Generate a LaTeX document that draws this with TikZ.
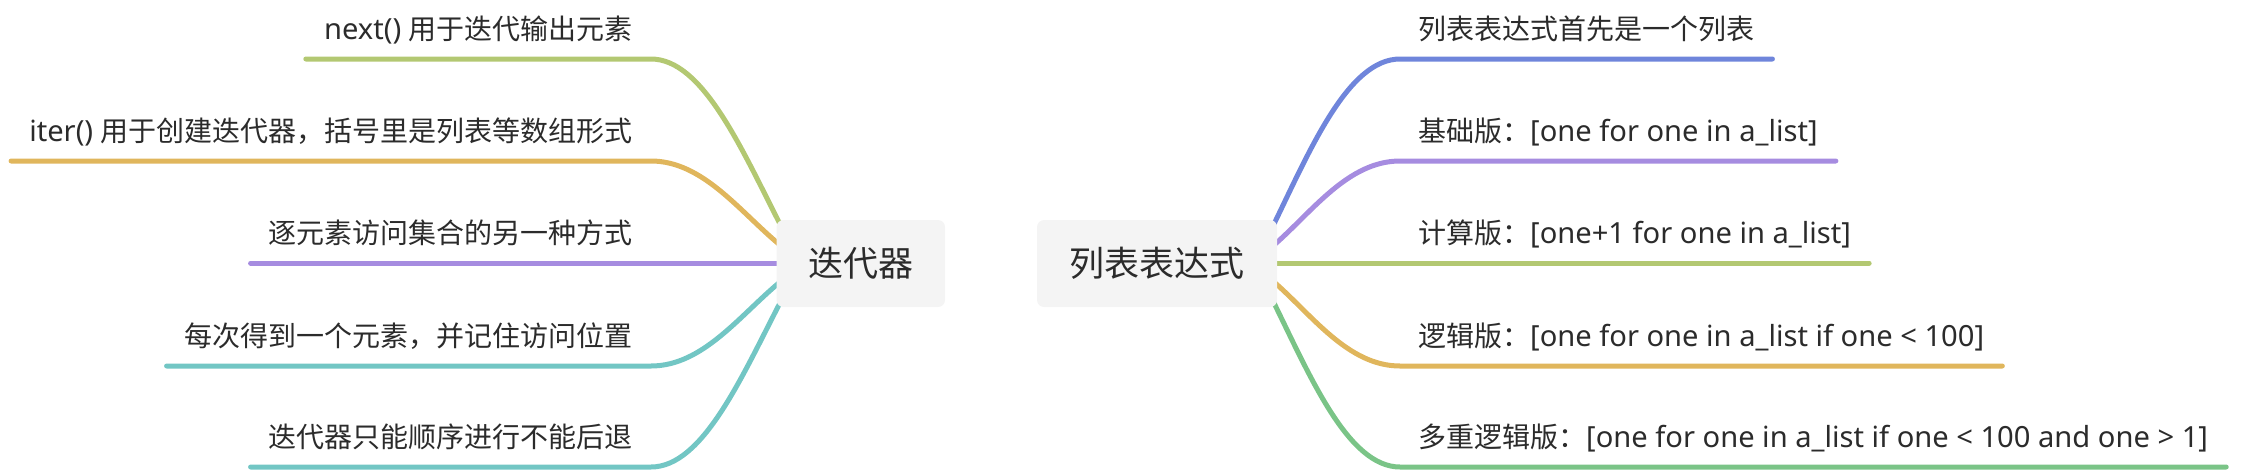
\documentclass[tikz,border=0pt]{standalone}
\usepackage{fontspec}
\setmainfont{Noto Sans CJK SC}
\newfontfamily\lat{Noto Sans}[Scale=1.04]
\usetikzlibrary{backgrounds}
\definecolor{txt}{HTML}{2B2B2B}
\definecolor{hubfill}{HTML}{F4F4F4}
\definecolor{cOlive}{HTML}{B3C872}
\definecolor{cOrange}{HTML}{E0B65C}
\definecolor{cPurple}{HTML}{A68CE0}
\definecolor{cTeal}{HTML}{72C6C4}
\definecolor{cBlue}{HTML}{6F85DB}
\definecolor{cGreen}{HTML}{7AC487}
\begin{document}
\begin{tikzpicture}[x=1pt,y=-1pt,
  hub/.style={fill=hubfill, rounded corners=7pt, minimum height=87pt, inner sep=0pt,
    text=txt, font=\fontsize{35}{40}\selectfont},
  leaf/.style={text=txt, font=\fontsize{28}{32}\selectfont, inner xsep=18pt, inner ysep=0pt,
    text height=22pt, text depth=19pt},
  br/.style={line width=5pt, line cap=round}]
\useasboundingbox (0,0) rectangle (2246,472);

% hubs
\node[hub, minimum width=168.5pt] (L) at (860.75,263.5) {迭代器};
\node[hub, minimum width=240pt] (R) at (1157,263.5) {列表表达式};

% left leaves
\node[leaf, anchor=south east] (a1) at (651,59) {{\lat next() }用于迭代输出元素};
\node[leaf, anchor=south east] (a2) at (651,161) {{\lat iter() }用于创建迭代器，括号里是列表等数组形式};
\node[leaf, anchor=south east] (a3) at (651,263) {逐元素访问集合的另一种方式};
\node[leaf, anchor=south east] (a4) at (651,366) {每次得到一个元素，并记住访问位置};
\node[leaf, anchor=south east] (a5) at (651,467) {迭代器只能顺序进行不能后退};

% right leaves
\node[leaf, anchor=south west] (b1) at (1400,59) {列表表达式首先是一个列表};
\node[leaf, anchor=south west] (b2) at (1400,161) {基础版：{\lat[one for one in a\_list]}};
\node[leaf, anchor=south west] (b3) at (1400,263) {计算版：{\lat[one+1 for one in a\_list]}};
\node[leaf, anchor=south west] (b4) at (1400,366) {逻辑版：{\lat[one for one in a\_list if one < 100]}};
\node[leaf, anchor=south west] (b5) at (1400,467) {多重逻辑版：{\lat[one for one in a\_list if one < 100 and one > 1]}};

% attachment points on hubs
\coordinate (la1) at (781,226);
\coordinate (la2) at (780,245);
\coordinate (la3) at (800,263);
\coordinate (la4) at (780,282);
\coordinate (la5) at (781,301);
\coordinate (rb1) at (1273,226);
\coordinate (rb2) at (1274,245);
\coordinate (rb3) at (1250,263);
\coordinate (rb4) at (1274,282);
\coordinate (rb5) at (1273,301);

\begin{scope}[on background layer]
\draw[br, cOlive] (a1.south west) -- (a1.south east) .. controls (703,59) and (742,150) .. (la1);
\draw[br, cOrange] (a2.south west) -- (a2.south east) .. controls (703,161) and (740,212) .. (la2);
\draw[br, cPurple] (a3.south west) -- (la3);
\draw[br, cTeal] (a4.south west) -- (a4.south east) .. controls (703,366) and (740,315) .. (la4);
\draw[br, cTeal] (a5.south west) -- (a5.south east) .. controls (703,467) and (742,376) .. (la5);

\draw[br, cBlue] (rb1) .. controls (1310,150) and (1348,59) .. (b1.south west) -- (b1.south east);
\draw[br, cPurple] (rb2) .. controls (1312,212) and (1348,161) .. (b2.south west) -- (b2.south east);
\draw[br, cOlive] (rb3) -- (b3.south east);
\draw[br, cOrange] (rb4) .. controls (1312,315) and (1348,366) .. (b4.south west) -- (b4.south east);
\draw[br, cGreen] (rb5) .. controls (1310,376) and (1348,467) .. (b5.south west) -- (b5.south east);
\end{scope}
\end{tikzpicture}
\end{document}
